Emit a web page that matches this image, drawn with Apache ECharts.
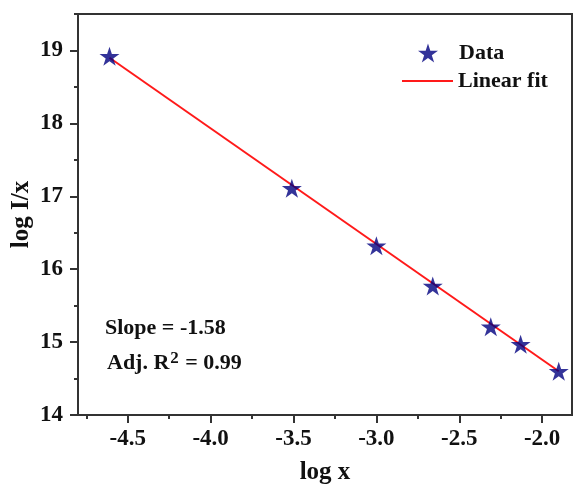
<!DOCTYPE html>
<html>
<head>
<meta charset="utf-8">
<script src="https://cdn.jsdelivr.net/npm/echarts@6/dist/echarts.min.js"></script>
<style>html,body{margin:0;padding:0;background:#fff}#c{width:573px;height:486px}</style>
</head>
<body>
<div id="c"></div>
<script>
// Data
const logX = [-4.61, -3.51, -3.00, -2.66, -2.31, -2.13, -1.90];
const logIx = [18.92, 17.11, 16.32, 15.77, 15.21, 14.97, 14.60];
const fitX = [-4.61, -1.90];
const fitY = [18.90, 14.60];
const xMajor = [-4.5, -4.0, -3.5, -3.0, -2.5, -2.0];
const xMinor = [-4.75, -4.25, -3.75, -3.25, -2.75, -2.25];
const yMajor = [14, 15, 16, 17, 18, 19];
const yMinor = [14.5, 15.5, 16.5, 17.5, 18.5, 19.5];
const xRange = [-4.8, -1.82];
const yRange = [14, 19.5];
const slopeText = 'Slope = -1.58';
const r2Text = '0.99';

const STAR = 'path://M50 0 L61.23 34.55 L97.55 34.55 L68.17 55.9 L79.39 90.45 L50 69.1 L20.61 90.45 L31.83 55.9 L2.45 34.55 L38.77 34.55 Z';
const FONT = 'Liberation Serif';
const AX = '#333';
const TXT = '#111';

const chart = echarts.init(document.getElementById('c'), null, {renderer: 'canvas'});
const dataPts = logX.map((x, i) => [x, logIx[i]]);
const fitPts = fitX.map((x, i) => [x, fitY[i]]);

function xAxisDef(minor) {
  return {
    type: 'value', min: xRange[0], max: xRange[1], position: 'bottom',
    name: minor ? '' : 'log x', nameLocation: 'middle', nameGap: 45,
    nameTextStyle: {fontFamily: FONT, fontWeight: 'bold', fontSize: 25, color: TXT},
    axisLine: {show: !minor, onZero: false, lineStyle: {color: AX, width: 2}},
    axisTick: {show: true, inside: false, length: minor ? 4 : 8, customValues: minor ? xMinor : xMajor,
      lineStyle: {color: AX, width: 2}},
    axisLabel: {show: !minor, customValues: xMajor, margin: 13, fontFamily: FONT, fontWeight: 'bold', fontSize: 23, color: TXT,
      formatter: v => v.toFixed(1)},
    splitLine: {show: false}
  };
}
function yAxisDef(minor) {
  return {
    type: 'value', min: yRange[0], max: yRange[1], position: 'left',
    name: minor ? '' : 'log I/x', nameLocation: 'middle', nameGap: 44, nameRotate: 90, nameMoveOverlap: false,
    nameTextStyle: {fontFamily: FONT, fontWeight: 'bold', fontSize: 25, color: TXT},
    axisLine: {show: !minor, onZero: false, lineStyle: {color: AX, width: 2}},
    axisTick: {show: true, inside: false, length: minor ? 4 : 8, customValues: minor ? yMinor : yMajor,
      lineStyle: {color: AX, width: 2}},
    axisLabel: {show: !minor, customValues: yMajor, margin: 15, fontFamily: FONT, fontWeight: 'bold', fontSize: 23, color: TXT},
    splitLine: {show: false}
  };
}

chart.setOption({
  animation: false,
  backgroundColor: '#fff',
  grid: {left: 78, right: 1, top: 14, bottom: 71, outerBoundsMode: 'none', containLabel: false,
    show: true, borderColor: AX, borderWidth: 2, backgroundColor: 'transparent'},
  xAxis: [xAxisDef(false), xAxisDef(true)],
  yAxis: [yAxisDef(false), yAxisDef(true)],
  legend: [
    {data: [{name: 'Data', icon: STAR}], left: 413, top: 37, itemWidth: 20, itemHeight: 19,
      itemStyle: {color: '#000080', borderWidth: 0},
      textStyle: {fontFamily: FONT, fontWeight: 'bold', fontSize: 22, color: TXT, padding: [0, 0, 0, 16]}},
    {data: [{name: 'Linear fit', icon: 'rect'}], left: 397, top: 65, itemWidth: 51, itemHeight: 2,
      itemStyle: {color: '#ff1a1a', borderWidth: 0},
      textStyle: {fontFamily: FONT, fontWeight: 'bold', fontSize: 22, color: TXT}}
  ],
  graphic: [
    {type: 'text', left: 105, top: 317, style: {text: slopeText, font: 'bold 22px "Liberation Serif"', fill: TXT}},
    {type: 'text', left: 107, top: 350, style: {
      text: 'Adj. R{sup|2} = ' + r2Text, font: 'bold 22px "Liberation Serif"', fill: TXT,
      rich: {sup: {fontSize: 17, fontWeight: 'bold', fontFamily: FONT, verticalAlign: 'bottom', padding: [0, 1, 9, 1], fill: TXT}}
    }}
  ],
  series: [
    {name: 'Linear fit', type: 'line', data: fitPts, showSymbol: false, symbol: 'none', z: 2,
      lineStyle: {color: '#ff1a1a', width: 2}, itemStyle: {color: '#ff1a1a'}},
    {name: 'Data', type: 'scatter', data: dataPts, symbol: STAR, symbolSize: 20, symbolKeepAspect: true, z: 3,
      itemStyle: {color: '#000080', borderWidth: 0}}
  ]
});
</script>
</body>
</html>
